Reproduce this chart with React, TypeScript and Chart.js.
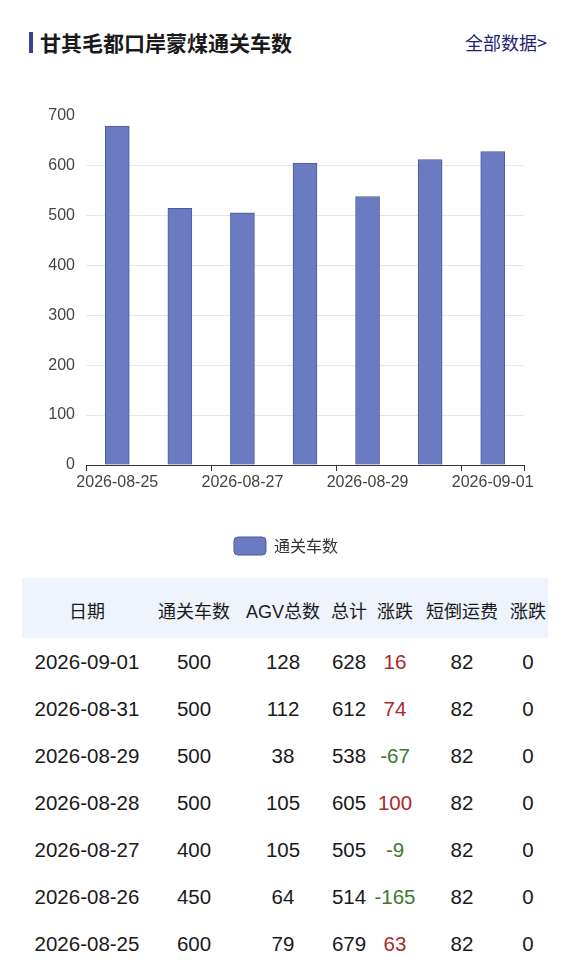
import React, { useEffect, useRef } from "react";
import { Chart, registerables } from "chart.js";

Chart.register(...registerables);

const categories = ["2026-08-25", "2026-08-26", "2026-08-27", "2026-08-28", "2026-08-29", "2026-08-31", "2026-09-01"];
const carCounts = [679, 514, 505, 605, 538, 612, 628];
const yTicks = [0, 100, 200, 300, 400, 500, 600, 700];

const tableHeaders = ["日期", "通关车数", "AGV总数", "总计", "涨跌", "短倒运费", "涨跌"];
const tableDates = ["2026-09-01", "2026-08-31", "2026-08-29", "2026-08-28", "2026-08-27", "2026-08-26", "2026-08-25"];
const tableClearance = [500, 500, 500, 500, 400, 450, 600];
const tableAgv = [128, 112, 38, 105, 105, 64, 79];
const tableTotal = [628, 612, 538, 605, 505, 514, 679];
const tableChange = [16, 74, -67, 100, -9, -165, 63];
const tableFreight = [82, 82, 82, 82, 82, 82, 82];
const tableFreightChange = [0, 0, 0, 0, 0, 0, 0];

const CJK = '"Noto Sans CJK SC", "Noto Sans", sans-serif';
const LATIN = '"Liberation Sans", "Noto Sans CJK SC", sans-serif';
const colCenters = [87, 194, 283, 349, 395, 462, 528];

export default function App() {
  const canvasRef = useRef<HTMLCanvasElement | null>(null);

  useEffect(() => {
    if (!canvasRef.current) return;
    const chart = new Chart(canvasRef.current, {
      type: "bar",
      data: {
        labels: categories,
        datasets: [
          {
            label: "通关车数",
            data: carCounts,
            backgroundColor: "#6b7bc1",
            borderColor: "#4d5c9e",
            borderWidth: 1,
            barThickness: 24,
          },
        ],
      },
      options: {
        animation: false,
        responsive: false,
        maintainAspectRatio: false,
        layout: { padding: { left: 0, right: 12, top: 18, bottom: 8 } },
        plugins: {
          tooltip: { enabled: false },
          legend: {
            position: "bottom",
            labels: {
              boxWidth: 32,
              boxHeight: 18,
              useBorderRadius: true,
              borderRadius: 4,
              color: "#333",
              font: { family: CJK, size: 16 },
              padding: 10,
            },
          },
        },
        scales: {
          x: {
            offset: true,
            afterFit: (scale: any) => {
              scale.height = 62;
            },
            grid: {
              display: true,
              offset: true,
              drawOnChartArea: false,
              drawTicks: true,
              tickLength: 6,
              color: (ctx: any) => (ctx.index === undefined || ctx.index % 2 === 0 ? "#333" : "rgba(0,0,0,0)"),
              lineWidth: 1,
            },
            border: { display: true, color: "#333", width: 1 },
            ticks: {
              autoSkip: false,
              maxRotation: 0,
              color: "#444",
              font: { family: LATIN, size: 16 },
              padding: 2,
              callback: (_v: any, i: number) => (i % 2 === 0 ? categories[i] : ""),
            },
          },
          y: {
            min: 0,
            max: 700,
            afterFit: (scale: any) => {
              scale.width = 86;
            },
            afterBuildTicks: (scale: any) => {
              scale.ticks = yTicks.map((v) => ({ value: v }));
            },
            grid: {
              drawTicks: false,
              color: (ctx: any) => (ctx.tick && ctx.tick.value === 700 ? "rgba(0,0,0,0)" : "#e6e6e6"),
            },
            border: { display: false },
            ticks: {
              color: "#444",
              font: { family: LATIN, size: 16 },
              padding: 11,
            },
          },
          yRight: {
            type: "linear",
            position: "right",
            display: true,
            afterFit: (scale: any) => {
              scale.width = 48;
            },
            grid: { display: false, drawTicks: false },
            border: { display: false },
            ticks: { display: false },
          },
        },
      },
    });
    return () => chart.destroy();
  }, []);

  const cell = (text: any, i: number, color = "#1a1a1a", size = 20.5, family = LATIN): any => (
    <div
      key={i}
      style={{
        position: "absolute",
        left: colCenters[i] - 60,
        width: 120,
        textAlign: "center",
        color,
        fontSize: size,
        fontFamily: family,
        top: 0,
        lineHeight: "24px",
      }}
    >
      {text}
    </div>
  );

  return (
    <div style={{ position: "absolute", left: 0, top: 0, width: 584, height: 968, background: "#fff", fontFamily: CJK, overflow: "hidden" }}>
      <div style={{ position: "absolute", left: 29, top: 32, width: 4, height: 21, background: "#3b3f8c" }} />
      <div style={{ position: "absolute", left: 40, top: 28, fontSize: 21, fontWeight: 700, color: "#1a1a1a", lineHeight: "28px" }}>
        甘其毛都口岸蒙煤通关车数
      </div>
      <div style={{ position: "absolute", left: 465, top: 29, fontSize: 18, color: "#1f1f78", lineHeight: "26px" }}>全部数据&gt;</div>
      <canvas ref={canvasRef} width={584} height={478} style={{ position: "absolute", left: 0, top: 95, width: 584, height: 478 }} />
      <div style={{ position: "absolute", left: 22, top: 578, width: 526, height: 60, background: "#eef3fc" }} />
      <div style={{ position: "absolute", left: 0, top: 600, width: 584, height: 24 }}>
        {tableHeaders.map((h, i) => cell(h, i, "#1a1a1a", 18, '"Liberation Sans", "Noto Sans CJK SC", sans-serif'))}
      </div>
      {tableDates.map((d, r) => (
        <div key={r} style={{ position: "absolute", left: 0, top: 650 + r * 47, width: 584, height: 24 }}>
          {cell(d, 0)}
          {cell(tableClearance[r], 1)}
          {cell(tableAgv[r], 2)}
          {cell(tableTotal[r], 3)}
          {cell(tableChange[r], 4, tableChange[r] >= 0 ? "#a82a2a" : "#3d7a2e")}
          {cell(tableFreight[r], 5)}
          {cell(tableFreightChange[r], 6)}
        </div>
      ))}
    </div>
  );
}
